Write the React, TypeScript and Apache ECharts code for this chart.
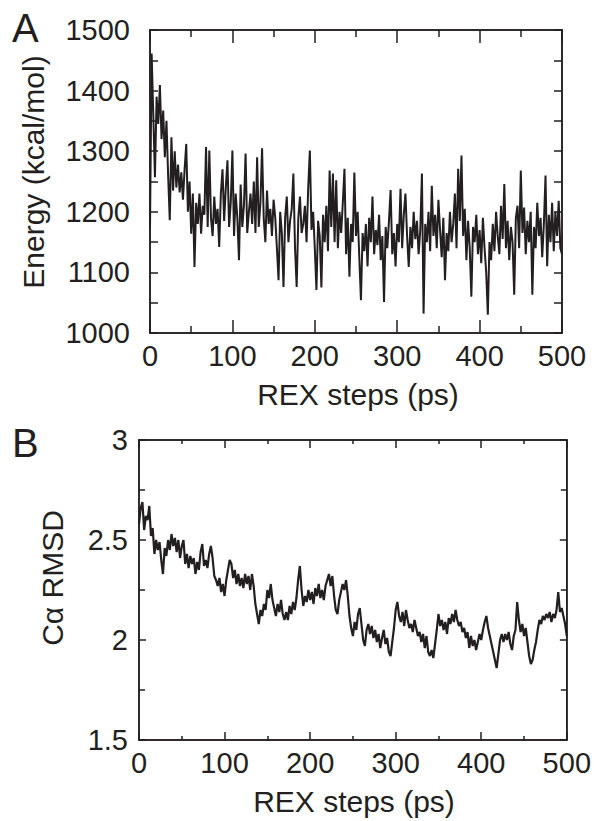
import React, { useEffect, useRef } from "react";
import * as echarts from "echarts";

const STEP_PS = 2;

const energy: number[] = [
  1172, 1461, 1360, 1257, 1390, 1345, 1409, 1320, 1367, 1290,
  1350, 1260, 1186, 1323, 1235, 1300, 1240, 1278, 1232, 1265,
  1220, 1270, 1312, 1200, 1250, 1164, 1230, 1109, 1215, 1180,
  1230, 1164, 1210, 1195, 1307, 1175, 1301, 1190, 1160, 1225,
  1180, 1205, 1142, 1230, 1270, 1185, 1240, 1285, 1175, 1215,
  1301, 1160, 1230, 1190, 1120, 1245, 1175, 1210, 1296, 1165,
  1200, 1230, 1180, 1250, 1165, 1290, 1175, 1215, 1305, 1190,
  1150, 1235, 1180, 1205, 1160, 1220, 1190, 1140, 1087, 1200,
  1165, 1076, 1190, 1225, 1150, 1185, 1205, 1263, 1140, 1076,
  1190, 1225, 1165, 1180, 1210, 1150, 1240, 1301, 1170, 1200,
  1140, 1071, 1185, 1160, 1075, 1195, 1150, 1210, 1135, 1268,
  1175, 1263, 1150, 1252, 1140, 1200, 1165, 1215, 1271, 1130,
  1190, 1093, 1180, 1150, 1265, 1160, 1200, 1125, 1054, 1165,
  1135, 1180, 1110, 1190, 1150, 1225, 1130, 1170, 1145, 1195,
  1120, 1160, 1051, 1175, 1140, 1185, 1236, 1130, 1165, 1110,
  1180, 1150, 1238, 1140, 1195, 1230, 1160, 1109, 1175, 1140,
  1200, 1155, 1185, 1130, 1170, 1263, 1032, 1180, 1150, 1200,
  1135, 1243, 1160, 1195, 1140, 1220, 1170, 1125, 1190, 1087,
  1165, 1135, 1200, 1150, 1180, 1230, 1140, 1271, 1185, 1293,
  1160, 1205, 1120, 1185, 1140, 1060, 1175, 1150, 1195, 1130,
  1170, 1115, 1190, 1140, 1100, 1030, 1150, 1120, 1180, 1135,
  1200, 1160, 1130, 1210, 1155, 1246, 1140, 1185, 1120, 1175,
  1150, 1063, 1190, 1210, 1140, 1268, 1165, 1207, 1130, 1185,
  1150, 1200, 1063, 1175, 1140, 1215, 1160, 1190, 1125, 1180,
  1260, 1110, 1195, 1150, 1215, 1135, 1200, 1160, 1218, 1140,
  1130,
];

const rmsd: number[] = [
  2.58, 2.66, 2.69, 2.55, 2.62, 2.60, 2.67, 2.52, 2.56, 2.43,
  2.50, 2.45, 2.49, 2.40, 2.33, 2.46, 2.42, 2.50, 2.45, 2.53,
  2.47, 2.51, 2.44, 2.50, 2.41, 2.47, 2.50, 2.38, 2.43, 2.36,
  2.42, 2.38, 2.41, 2.33, 2.39, 2.35, 2.44, 2.48, 2.37, 2.40,
  2.36, 2.43, 2.47, 2.41, 2.32, 2.30, 2.27, 2.31, 2.24, 2.28,
  2.22, 2.30, 2.35, 2.40, 2.38, 2.31, 2.35, 2.28, 2.33, 2.27,
  2.31, 2.26, 2.33, 2.28, 2.32, 2.25, 2.33, 2.27, 2.18, 2.13,
  2.08, 2.15, 2.12, 2.18, 2.15, 2.25, 2.21, 2.28, 2.20, 2.16,
  2.12, 2.18, 2.14, 2.20, 2.13, 2.10, 2.14, 2.10, 2.17, 2.13,
  2.19, 2.15, 2.21, 2.30, 2.37, 2.25, 2.17, 2.22, 2.19, 2.25,
  2.20, 2.24, 2.18, 2.26, 2.22, 2.28, 2.21, 2.25, 2.20, 2.27,
  2.30, 2.33, 2.27, 2.32, 2.22, 2.15, 2.13, 2.20, 2.24, 2.28,
  2.25, 2.30, 2.22, 2.12, 2.06, 2.02, 2.09, 2.05, 2.13, 2.16,
  2.08, 2.00, 1.97, 2.05, 2.08, 2.03, 2.07, 2.01, 2.05, 1.99,
  2.03, 1.96, 2.01, 2.05, 1.98, 2.01, 1.94, 1.92, 1.99, 2.06,
  2.15, 2.19, 2.12, 2.09, 2.14, 2.07, 2.15, 2.10, 2.06, 2.08,
  2.04, 2.10, 2.06, 2.02, 2.04, 1.99, 2.03, 1.96, 2.02, 1.94,
  1.92, 1.95, 1.91, 1.98, 2.05, 2.13, 2.07, 2.10, 2.05, 2.09,
  2.03, 2.11, 2.08, 2.13, 2.09, 2.15, 2.10, 2.07, 2.09, 2.04,
  2.06, 2.01, 2.04, 1.96, 2.02, 1.97, 2.00, 1.95, 1.99, 2.03,
  2.00, 2.05, 2.09, 2.12, 2.06, 2.02, 1.98, 1.94, 1.90, 1.86,
  1.93, 2.00, 2.03, 1.99, 2.03, 2.00, 2.04, 1.98, 1.95, 2.02,
  2.05, 2.19, 2.10, 2.04, 2.08, 2.02, 2.06, 1.99, 1.92, 1.88,
  1.90, 1.95, 1.99, 2.05, 2.10, 2.08, 2.12, 2.10, 2.13, 2.11,
  2.14, 2.09, 2.13, 2.11, 2.15, 2.24, 2.14, 2.16, 2.12, 2.08,
  2.02,
];

const xTicks = [0, 100, 200, 300, 400, 500];
const energyTicks = [1000, 1100, 1200, 1300, 1400, 1500];
const rmsdTicks = [1.5, 2, 2.5, 3];

const xName = "REX steps (ps)";
const energyName = "Energy (kcal/mol)";
const rmsdName = "C\u03B1 RMSD";

const INK = "#231f20";
const FONT = "Liberation Sans, Arial, Helvetica, sans-serif";

function makeAxis(
  gridIndex: number,
  position: string,
  ticks: number[],
  interval: number,
  majorLen: number,
  minorLen: number,
  labels: boolean,
  margin: number
) {
  const secondary = position === "top" || position === "right";
  return {
    type: "value",
    gridIndex,
    position,
    min: ticks[0],
    max: ticks[ticks.length - 1],
    interval,
    axisLine: secondary
      ? { show: true, onZero: false, lineStyle: { color: INK, width: 1.5 } }
      : { show: true, lineStyle: { color: INK, width: 1.5 } },
    axisTick: { show: true, inside: true, length: majorLen, lineStyle: { color: INK, width: 1.5 } },
    minorTick: { show: true, splitNumber: 2, length: minorLen, lineStyle: { color: INK, width: 1.5 } },
    splitLine: { show: false },
    axisLabel: labels
      ? {
          show: true,
          margin,
          fontSize: 29,
          fontFamily: FONT,
          color: INK,
          formatter: (v: number) => String(v),
        }
      : { show: false },
  };
}

function App() {
  const ref = useRef<HTMLDivElement>(null);
  useEffect(() => {
    if (!ref.current) return;
    const chart = echarts.init(ref.current, undefined, { renderer: "svg" });

    const eData = energy.map((v, i) => [i * STEP_PS, v]);
    const rData = rmsd.map((v, i) => [i * STEP_PS, v]);

    chart.setOption({
      animation: false,
      grid: [
        { left: 150, top: 30, width: 412, height: 303, show: true, borderColor: INK, borderWidth: 1.5, backgroundColor: "transparent" },
        { left: 139, top: 440, width: 429, height: 300, show: true, borderColor: INK, borderWidth: 1.5, backgroundColor: "transparent" },
      ],
      xAxis: [
        makeAxis(0, "bottom", xTicks, 100, 13, 7, true, 8),
        makeAxis(0, "top", xTicks, 100, 13, 7, false, 8),
        makeAxis(1, "bottom", xTicks, 100, 8, 4, true, 8),
        makeAxis(1, "top", xTicks, 100, 8, 4, false, 8),
      ],
      yAxis: [
        makeAxis(0, "left", energyTicks, 100, 8, 8, true, 20),
        makeAxis(0, "right", energyTicks, 100, 8, 8, false, 20),
        makeAxis(1, "left", rmsdTicks, 0.5, 7, 6, true, 11),
        makeAxis(1, "right", rmsdTicks, 0.5, 7, 6, false, 11),
      ],
      series: [
        {
          type: "line",
          name: "Energy",
          xAxisIndex: 0,
          yAxisIndex: 0,
          data: eData,
          showSymbol: false,
          lineStyle: { color: INK, width: 2 },
        },
        {
          type: "line",
          name: "RMSD",
          xAxisIndex: 2,
          yAxisIndex: 2,
          data: rData,
          showSymbol: false,
          lineStyle: { color: INK, width: 2.2 },
        },
      ],
      graphic: [
        {
          type: "text",
          x: 12,
          y: 8,
          style: { text: "A", fontSize: 40, fontFamily: FONT, fill: INK, align: "left", verticalAlign: "top" },
        },
        {
          type: "text",
          x: 12,
          y: 423,
          style: { text: "B", fontSize: 40, fontFamily: FONT, fill: INK, align: "left", verticalAlign: "top" },
        },
        {
          type: "text",
          x: 33,
          y: 172,
          rotation: Math.PI / 2,
          style: { text: energyName, fontSize: 30, fontFamily: FONT, fill: INK, align: "center", verticalAlign: "middle" },
        },
        {
          type: "text",
          x: 52,
          y: 578,
          rotation: Math.PI / 2,
          style: { text: rmsdName, fontSize: 30, fontFamily: FONT, fill: INK, align: "center", verticalAlign: "middle" },
        },
        {
          type: "text",
          x: 358,
          y: 394,
          style: { text: xName, fontSize: 30, fontFamily: FONT, fill: INK, align: "center", verticalAlign: "middle" },
        },
        {
          type: "text",
          x: 354,
          y: 801,
          style: { text: xName, fontSize: 30, fontFamily: FONT, fill: INK, align: "center", verticalAlign: "middle" },
        },
      ],
    });

    return () => {
      chart.dispose();
    };
  }, []);

  return (
    <div
      ref={ref}
      style={{ position: "fixed", left: 0, top: 0, width: 594, height: 821, background: "#fff" }}
    />
  );
}

export default App;
